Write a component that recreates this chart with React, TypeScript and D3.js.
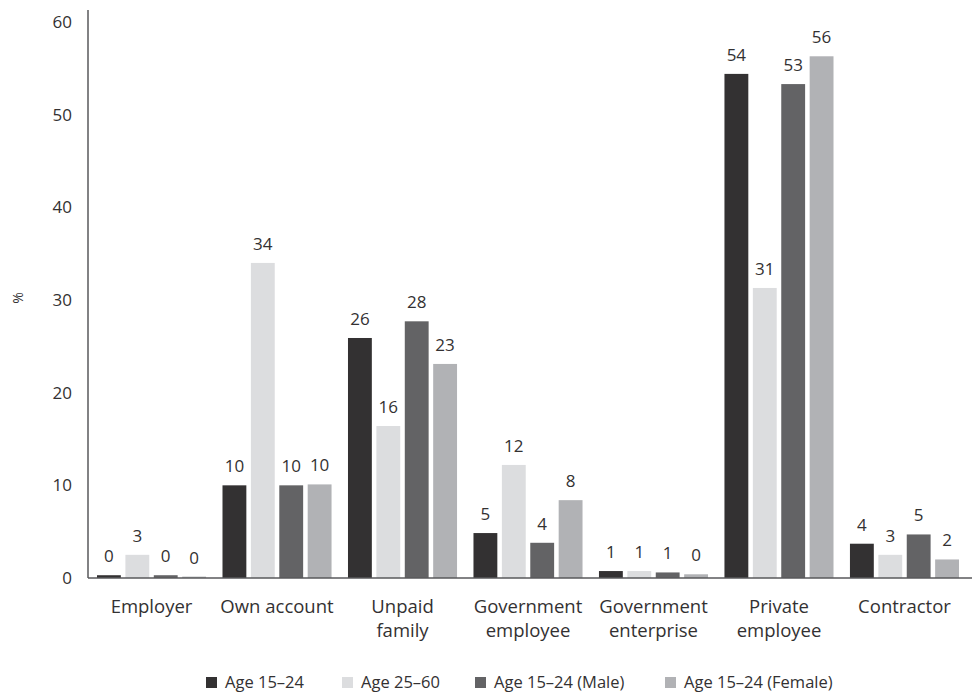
import React from 'react';
import { scaleBand, scaleLinear } from 'd3';

const categories = [
  ['Employer'],
  ['Own account'],
  ['Unpaid', 'family'],
  ['Government', 'employee'],
  ['Government', 'enterprise'],
  ['Private', 'employee'],
  ['Contractor'],
];

const seriesNames = ['Age 15–24', 'Age 25–60', 'Age 15–24 (Male)', 'Age 15–24 (Female)'];
const seriesColors = ['#333132', '#dcdddf', '#636365', '#b1b2b5'];

// one array per series, in category order
const age1524 = [0.3, 10.0, 25.9, 4.85, 0.75, 54.4, 3.7];
const age2560 = [2.5, 34.0, 16.4, 12.2, 0.75, 31.3, 2.5];
const age1524Male = [0.3, 10.0, 27.7, 3.8, 0.6, 53.3, 4.7];
const age1524Female = [0.15, 10.1, 23.1, 8.4, 0.4, 56.3, 2.0];

const yTicks = [0, 10, 20, 30, 40, 50, 60];

const series = [age1524, age2560, age1524Male, age1524Female];

const W = 972;
const H = 693;
const left = 88;
const right = 972;
const top = 10;
const base = 578;
const font = '"Open Sans", Lato, sans-serif';
const textColor = '#333132';

export default function App() {
  const y = scaleLinear().domain([0, 60]).range([base, 22]);
  const x0 = scaleBand<number>()
    .domain(categories.map((_, i) => i))
    .range([left + 9, right - 13])
    .paddingInner(0.131);
  const x1 = scaleBand<number>()
    .domain(series.map((_, i) => i))
    .range([0, x0.bandwidth()])
    .paddingInner(0.16);

  const legendX = [206, 342, 475, 665];

  return (
    <svg width={W} height={H} style={{ position: 'absolute', left: 0, top: 0 }} fontFamily={font}>
      {/* y tick labels */}
      {yTicks.map((t) => (
        <text key={t} x={72} y={y(t)} dy="0.35em" textAnchor="end" fontSize={17} fill={textColor}>
          {t}
        </text>
      ))}
      <text
        transform={`translate(18, 298) rotate(-90)`}
        textAnchor="middle"
        dy="0.35em"
        fontSize={14}
        fill={textColor}
      >
        %
      </text>

      {/* bars */}
      {categories.map((_, ci) => (
        <g key={ci} transform={`translate(${x0(ci)},0)`}>
          {series.map((s, si) => (
            <g key={si}>
              <rect
                x={x1(si)}
                y={y(s[ci])}
                width={x1.bandwidth()}
                height={base - y(s[ci])}
                fill={seriesColors[si]}
              />
              <text
                x={(x1(si) as number) + x1.bandwidth() / 2}
                y={y(s[ci]) - 13}
                textAnchor="middle"
                fontSize={17}
                fill={textColor}
              >
                {Math.round(s[ci])}
              </text>
            </g>
          ))}
        </g>
      ))}

      {/* axes */}
      <line x1={left} x2={left} y1={top} y2={base} stroke="#58595b" strokeWidth={1.5} />
      <line x1={left} x2={right} y1={base} y2={base} stroke="#58595b" strokeWidth={1.5} />

      {/* category labels */}
      {categories.map((lines, ci) => (
        <text
          key={ci}
          x={(x0(ci) as number) + x0.bandwidth() / 2}
          y={607}
          textAnchor="middle"
          fontSize={18.5}
          fill={textColor}
        >
          {lines.map((l, li) => (
            <tspan key={li} x={(x0(ci) as number) + x0.bandwidth() / 2} dy={li === 0 ? '0.35em' : 24}>
              {l}
            </tspan>
          ))}
        </text>
      ))}

      {/* legend */}
      {seriesNames.map((n, i) => (
        <g key={n} transform={`translate(${legendX[i]}, 682)`}>
          <rect x={0} y={-5} width={11} height={11} fill={seriesColors[i]} />
          <text x={19} dy="0.35em" fontSize={16.5} fill={textColor}>
            {n}
          </text>
        </g>
      ))}
    </svg>
  );
}
